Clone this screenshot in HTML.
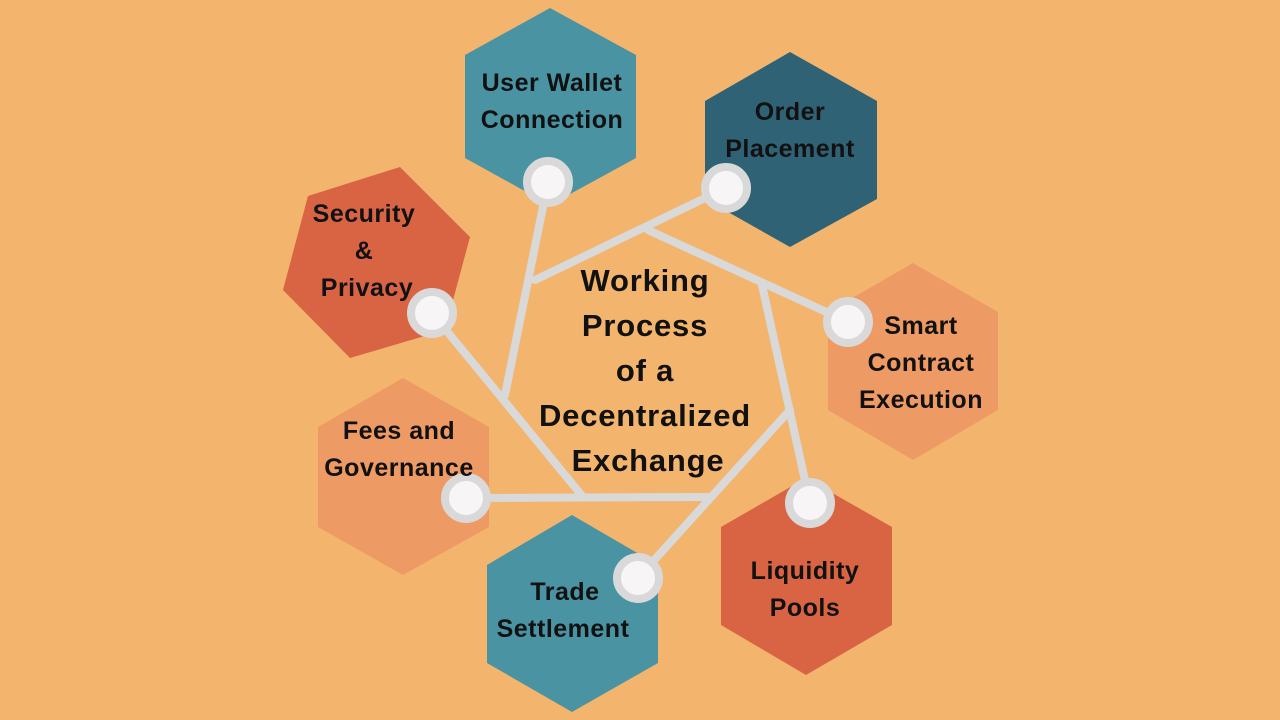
<!DOCTYPE html>
<html><head><meta charset="utf-8"><style>
html,body{margin:0;padding:0;background:#F3B56E;}
svg{display:block}
text{font-family:"Liberation Sans",sans-serif;font-weight:bold;fill:#111;text-anchor:middle}
</style></head><body>
<svg width="1280" height="720" viewBox="0 0 1280 720">
<rect width="1280" height="720" fill="#F3B56E"/>
<polygon points="550,8 636,55 636,158 550,205 465,158 465,55" fill="#4A93A3"/>
<polygon points="790,52 877,101 877,199 790,247 705,199 705,101" fill="#2F6275"/>
<polygon points="913,263 998,312 998,410 913,460 828,410 828,312" fill="#EE9A65"/>
<polygon points="806,478 892,527 892,625 806,675 721,625 721,527" fill="#D96443"/>
<polygon points="572,515 658,565 658,663 572,712 487,663 487,565" fill="#4A93A3"/>
<polygon points="403,378 489,427 489,527 403,575 318,527 318,427" fill="#EE9A65"/>
<polygon points="400,167 470,237 445,330 350,358 283,290 308,196" fill="#D96443"/>
<g stroke="#D9D9D9" stroke-width="8" stroke-linecap="round" fill="none">
<line x1="548" y1="182" x2="505" y2="395"/>
<line x1="535" y1="280" x2="726" y2="188"/>
<line x1="648" y1="230" x2="848" y2="322"/>
<line x1="762" y1="285" x2="810" y2="503"/>
<line x1="790" y1="410" x2="638" y2="578"/>
<line x1="708" y1="497" x2="466" y2="498"/>
<line x1="583" y1="497" x2="432" y2="313"/>
</g>
<g fill="#F7F5F5" stroke="#D9D9D9" stroke-width="8">
<circle cx="548" cy="182" r="21"/>
<circle cx="726" cy="188" r="21"/>
<circle cx="848" cy="322" r="21"/>
<circle cx="810" cy="503" r="21"/>
<circle cx="638" cy="578" r="21"/>
<circle cx="466" cy="498" r="21"/>
<circle cx="432" cy="313" r="21"/>
</g>
<g font-size="25" style="letter-spacing:0.5px">
<text x="552" y="91">User Wallet</text>
<text x="552" y="128">Connection</text>
<text x="790" y="120">Order</text>
<text x="790" y="157">Placement</text>
<text x="921" y="334">Smart</text>
<text x="921" y="371">Contract</text>
<text x="921" y="408">Execution</text>
<text x="805" y="579">Liquidity</text>
<text x="805" y="616">Pools</text>
<text x="565" y="600">Trade</text>
<text x="563" y="637">Settlement</text>
<text x="399" y="439">Fees and</text>
<text x="399" y="476">Governance</text>
<text x="364" y="222">Security</text>
<text x="364" y="259">&amp;</text>
<text x="367" y="296">Privacy</text>
</g>
<g font-size="31" style="letter-spacing:0.8px">
<text x="645" y="291">Working</text>
<text x="645" y="336">Process</text>
<text x="645" y="381">of a</text>
<text x="645" y="426">Decentralized</text>
<text x="648" y="471">Exchange</text>
</g>
</svg>
</body></html>
